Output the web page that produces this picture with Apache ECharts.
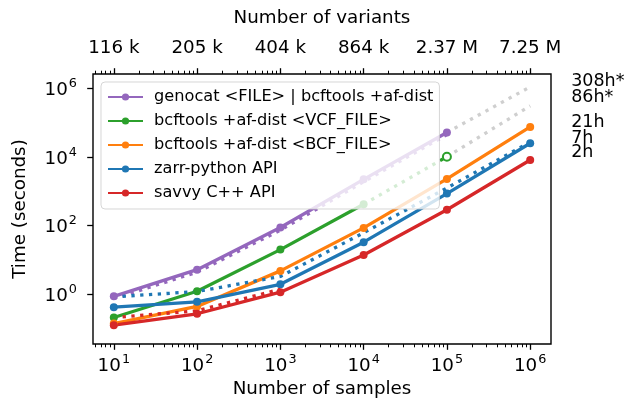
<!DOCTYPE html>
<html>
<head>
<meta charset="utf-8">
<script src="https://cdn.jsdelivr.net/npm/echarts@6/dist/echarts.min.js"></script>
<style>
  html, body { margin: 0; padding: 0; background: #fff; }
  #chart { width: 628px; height: 408px; }
</style>
</head>
<body>
<div id="chart"></div>
<script>
// Sample counts (x) and the matching variant counts shown on the top axis
const samples = [10, 100, 1000, 10000, 100000, 1000000];
const variantLabels = ['116 k', '205 k', '404 k', '864 k', '2.37 M', '7.25 M'];
const timeTicks = [1, 100, 10000, 1000000];

// Run times in seconds, one entry per sample count (null = not measured)
const genocat   = [0.87, 5.2, 88, 2240, 52000, null];
const bcfVcf    = [0.21, 1.22, 20, 420, null, null];
const bcfVcfEst = [null, null, null, 420, 10200, null];
const bcfBcf    = [0.14, 0.44, 4.8, 86, 2300, 75600];
const zarr      = [0.42, 0.6, 1.95, 33, 860, 25200];
const savvy     = [0.125, 0.27, 1.15, 14, 290, 8200];

// Dotted model curves
const genocatFit = [0.75, 4.4, 74, 1900, 45000, null];
const zarrFit    = [0.84, 1.2, 3.3, 62, 1250, 27500];
const savvyFit   = [0.21, 0.33, 1.4, null, null, null];

// Extrapolated run times at one million samples
const genocatExtrap = [null, null, null, null, 52000, 1108800];
const bcfVcfExtrap  = [null, null, null, null, 10200, 309600];

const FONT = 'DejaVu Sans';
const FS = 18.3;
const minorTicks = [];
for (let e = 0; e <= 6; e++) for (let m = 2; m <= 9; m++) minorTicks.push(m * Math.pow(10, e));

const C = {
  purple: '#9467bd', green: '#2ca02c', orange: '#ff7f0e',
  blue: '#1f77b4', red: '#d62728', grey: '#cfcfcf'
};

function pts(arr) {
  return samples.map((x, i) => [x, arr[i]]).filter(p => p[1] != null);
}
function expOf(v) { return Math.round(Math.log10(v)); }
function pow10Label(v) { return '{b|10}{s|' + expOf(v) + '}'; }
const powRich = {
  b: { fontFamily: FONT, fontSize: FS, color: '#000', padding: [4, 0, 0, 0], verticalAlign: 'bottom' },
  s: { fontFamily: FONT, fontSize: 12.8, color: '#000', verticalAlign: 'top', padding: [0, 0, 0, 1] }
};
function hoursLabel(star) {
  return p => Math.round(p.value[1] / 3600) + 'h' + (star ? '*' : '');
}
function endLabel(star, dy) {
  return {
    show: true, formatter: hoursLabel(star), distance: 41, offset: [0, dy],
    fontFamily: FONT, fontSize: 17.5, color: '#000'
  };
}

// every series sits below the legend (z 4) so the legend box veils them
const LW = 3.3;
function solid(name, color, arr, lbl) {
  const s = {
    name, type: 'line', data: pts(arr), z: 2,
    symbol: 'circle', symbolSize: 8, showSymbol: true,
    lineStyle: { color, width: LW }, itemStyle: { color },
    emphasis: { disabled: true }
  };
  if (lbl) s.endLabel = lbl;
  return s;
}
function dotted(name, color, arr, axis, lbl) {
  const s = {
    name, type: 'line', data: pts(arr), z: 2, symbol: 'none', xAxisIndex: axis,
    lineStyle: { color, width: LW, type: [3.3, 5.5], cap: 'butt' },
    emphasis: { disabled: true }
  };
  if (lbl) s.endLabel = lbl;
  return s;
}

const legendNames = [
  'genocat <FILE> | bcftools +af-dist',
  'bcftools +af-dist <VCF_FILE>',
  'bcftools +af-dist <BCF_FILE>',
  'zarr-python API',
  'savvy C++ API'
];

const xRange = { min: Math.pow(10, 0.75), max: Math.pow(10, 6.25) };
const tickStyle = { color: '#000', width: 1.3 };
const minorAxis = pos => ({
  type: 'log', logBase: 10, position: pos, ...xRange,
  axisLine: { show: false }, splitLine: { show: false },
  axisLabel: { show: true, customValues: minorTicks, formatter: () => '' },
  axisTick: { show: true, customValues: minorTicks, length: 3.3, lineStyle: { color: '#000', width: 1 } }
});
const axisName = { fontFamily: FONT, fontSize: FS, color: '#000' };

const option = {
  animation: false,
  backgroundColor: '#fff',
  textStyle: { fontFamily: FONT },
  grid: {
    left: 93, right: 77, top: 74, bottom: 64,
    show: true, borderColor: '#000', borderWidth: 1.4, backgroundColor: 'transparent'
  },
  legend: {
    data: legendNames, orient: 'vertical', left: 101, top: 82, z: 10,
    padding: [7, 6, 8, 6], itemWidth: 35, itemHeight: 9, itemGap: 8,
    backgroundColor: 'rgba(255,255,255,0.8)', borderColor: 'rgba(204,204,204,0.8)',
    borderWidth: 1, borderRadius: 4, selectedMode: false,
    textStyle: { fontFamily: FONT, fontSize: 16.2, color: '#000', padding: [0, 0, 0, 6] }
  },
  xAxis: [
    {
      type: 'log', logBase: 10, position: 'bottom', ...xRange,
      axisLine: { show: false }, splitLine: { show: false },
      axisTick: { customValues: samples, length: 5.8, lineStyle: tickStyle },
      axisLabel: { customValues: samples, formatter: pow10Label, rich: powRich, margin: 9 },
      name: 'Number of samples', nameLocation: 'middle', nameGap: 34, nameTextStyle: axisName
    },
    minorAxis('bottom'),
    {
      type: 'log', logBase: 10, position: 'top', ...xRange,
      axisLine: { show: false }, splitLine: { show: false },
      axisTick: { customValues: samples, length: 5.8, lineStyle: tickStyle },
      axisLabel: {
        customValues: samples, margin: 17,
        formatter: v => variantLabels[expOf(v) - 1],
        fontFamily: FONT, fontSize: FS, color: '#000'
      },
      name: 'Number of variants', nameLocation: 'middle', nameGap: 47, nameTextStyle: axisName
    },
    minorAxis('top')
  ],
  yAxis: {
    type: 'log', logBase: 10, min: Math.pow(10, -1.45), max: Math.pow(10, 6.42),
    axisLine: { show: false }, splitLine: { show: false },
    axisTick: { customValues: timeTicks, length: 5.8, lineStyle: tickStyle },
    axisLabel: { customValues: timeTicks, formatter: pow10Label, rich: powRich, margin: 16 },
    name: 'Time (seconds)', nameLocation: 'middle', nameGap: 64, nameTextStyle: axisName
  },
  series: [
    dotted('genocat extrapolated', C.grey, genocatExtrap, 3, endLabel(true, -5)),
    dotted('VCF extrapolated', C.grey, bcfVcfExtrap, 3, endLabel(true, -8)),
    dotted('genocat model', C.purple, genocatFit, 1),
    solid(legendNames[0], C.purple, genocat),
    solid(legendNames[1], C.green, bcfVcf),
    Object.assign(dotted('VCF estimate', C.green, bcfVcfEst, 2), {
      symbol: (v, p) => (p.dataIndex === 1 ? 'emptyCircle' : 'none'),
      symbolSize: 8, showSymbol: true, itemStyle: { color: C.green, borderWidth: 1.5 }
    }),
    solid(legendNames[2], C.orange, bcfBcf, endLabel(false, -4)),
    dotted('zarr model', C.blue, zarrFit, 1),
    solid(legendNames[3], C.blue, zarr, endLabel(false, -5)),
    dotted('savvy model', C.red, savvyFit, 1),
    solid(legendNames[4], C.red, savvy, endLabel(false, -8))
  ]
};

const chart = echarts.init(document.getElementById('chart'), null, { renderer: 'canvas' });
chart.setOption(option);
</script>
</body>
</html>
